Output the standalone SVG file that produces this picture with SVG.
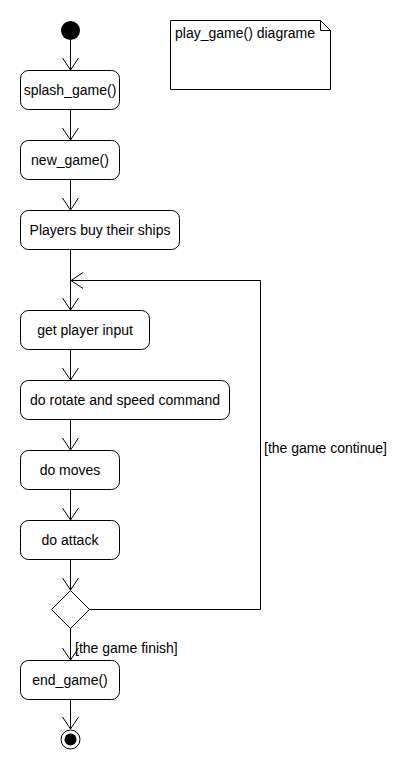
<svg xmlns="http://www.w3.org/2000/svg" width="420" height="770" viewBox="0 0 420 770">
<style>
.box{fill:#fff;stroke:#000;stroke-width:1}
.t{font-family:"Liberation Sans",Arial,sans-serif;font-size:14px;fill:#000}
.c{text-anchor:middle}
.ln{fill:none;stroke:#000;stroke-width:1}
</style>
<defs>
<marker id="arr" markerWidth="16" markerHeight="20" refX="13" refY="9" orient="auto" markerUnits="userSpaceOnUse" viewBox="0 0 16 20">
<path d="M1,1 L13,9 L1,17" fill="none" stroke="#000" stroke-width="1"/>
</marker>
</defs>
<rect width="420" height="770" fill="#fff"/>
<g id="connectors">
<line class="ln" x1="70.5" y1="40" x2="70.5" y2="70" marker-end="url(#arr)"/>
<line class="ln" x1="70.5" y1="109" x2="70.5" y2="140" marker-end="url(#arr)"/>
<line class="ln" x1="70.5" y1="179" x2="70.5" y2="210" marker-end="url(#arr)"/>
<line class="ln" x1="70.5" y1="249" x2="70.5" y2="310" marker-end="url(#arr)"/>
<line class="ln" x1="70.5" y1="349" x2="70.5" y2="380" marker-end="url(#arr)"/>
<line class="ln" x1="70.5" y1="419" x2="70.5" y2="450" marker-end="url(#arr)"/>
<line class="ln" x1="70.5" y1="489" x2="70.5" y2="520" marker-end="url(#arr)"/>
<line class="ln" x1="70.5" y1="559" x2="70.5" y2="590" marker-end="url(#arr)"/>
<polyline class="ln" points="89,609.5 260.5,609.5 260.5,280.5 71,280.5" marker-end="url(#arr)"/>
<text class="t" x="264" y="453">[the game continue]</text>
<line class="ln" x1="70.5" y1="628" x2="70.5" y2="660" marker-end="url(#arr)"/>
<text class="t" x="75" y="653">[the game finish]</text>
<line class="ln" x1="70.5" y1="699" x2="70.5" y2="729" marker-end="url(#arr)"/>
</g>
<g id="start"><circle cx="70.5" cy="30.5" r="9.5" fill="#000"/></g>
<g id="note">
<path class="box" d="M170.5,20.5 H320.5 L330.5,30.5 V89.5 H170.5 Z"/>
<path class="ln" d="M320.5,20.5 V30.5 H330.5"/>
<text class="t" x="175" y="38">play_game() diagrame</text>
</g>
<g id="splash_game"><rect class="box" x="20.5" y="70.5" width="99" height="39" rx="8"/><text class="t c" x="70" y="95">splash_game()</text></g>
<g id="new_game"><rect class="box" x="20.5" y="140.5" width="99" height="39" rx="8"/><text class="t c" x="70" y="165">new_game()</text></g>
<g id="buy_ships"><rect class="box" x="20.5" y="210.5" width="159" height="39" rx="8"/><text class="t c" x="100" y="235">Players buy their ships</text></g>
<g id="get_input"><rect class="box" x="20.5" y="310.5" width="129" height="39" rx="8"/><text class="t c" x="85" y="335">get player input</text></g>
<g id="rotate_speed"><rect class="box" x="20.5" y="380.5" width="209" height="39" rx="8"/><text class="t c" x="125" y="405">do rotate and speed command</text></g>
<g id="do_moves"><rect class="box" x="20.5" y="450.5" width="99" height="39" rx="8"/><text class="t c" x="70" y="475">do moves</text></g>
<g id="do_attack"><rect class="box" x="20.5" y="520.5" width="99" height="39" rx="8"/><text class="t c" x="70" y="545">do attack</text></g>
<g id="decision"><path class="box" d="M70.5,590.5 L89.5,609.5 L70.5,628.5 L51.5,609.5 Z"/></g>
<g id="end_game"><rect class="box" x="20.5" y="660.5" width="99" height="39" rx="8"/><text class="t c" x="70" y="685">end_game()</text></g>
<g id="final"><circle cx="70.5" cy="739.5" r="9.5" fill="#fff" stroke="#000" stroke-width="1"/><circle cx="70.5" cy="739.5" r="6" fill="#000"/></g>
</svg>
